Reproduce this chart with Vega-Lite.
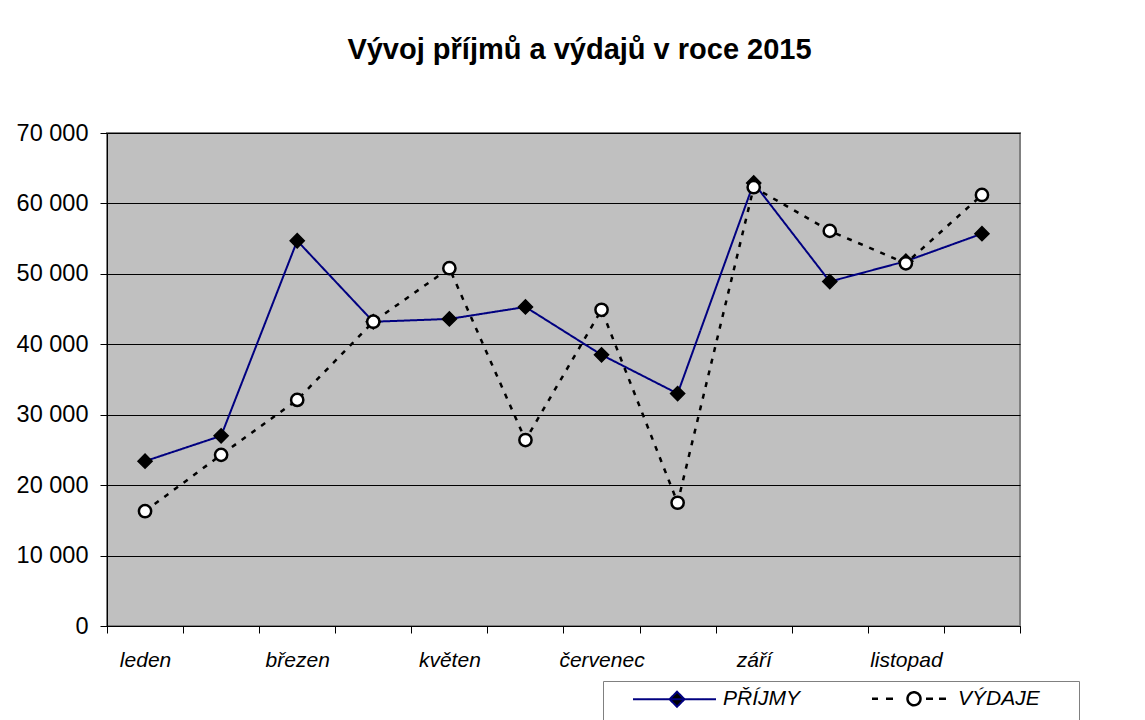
{
  "$schema": "https://vega.github.io/schema/vega-lite/v6.json",
  "autosize": {"type": "none"},
  "width": 913,
  "height": 493,
  "padding": {"left": 107, "top": 133, "right": 125, "bottom": 94},
  "background": "white",
  "title": {
    "text": "Vývoj příjmů a výdajů v roce 2015",
    "font": "Liberation Sans",
    "fontSize": 29,
    "fontWeight": "bold",
    "color": "black",
    "anchor": "middle",
    "dx": 16,
    "offset": 56
  },
  "data": {
    "values": [
      {"mesic": "leden", "rada": "PŘÍJMY", "hodnota": 23400},
      {"mesic": "únor", "rada": "PŘÍJMY", "hodnota": 27000},
      {"mesic": "březen", "rada": "PŘÍJMY", "hodnota": 54700},
      {"mesic": "duben", "rada": "PŘÍJMY", "hodnota": 43200},
      {"mesic": "květen", "rada": "PŘÍJMY", "hodnota": 43600},
      {"mesic": "červen", "rada": "PŘÍJMY", "hodnota": 45300},
      {"mesic": "červenec", "rada": "PŘÍJMY", "hodnota": 38500},
      {"mesic": "srpen", "rada": "PŘÍJMY", "hodnota": 33000},
      {"mesic": "září", "rada": "PŘÍJMY", "hodnota": 62900},
      {"mesic": "říjen", "rada": "PŘÍJMY", "hodnota": 48900},
      {"mesic": "listopad", "rada": "PŘÍJMY", "hodnota": 51800},
      {"mesic": "prosinec", "rada": "PŘÍJMY", "hodnota": 55700},
      {"mesic": "leden", "rada": "VÝDAJE", "hodnota": 16300},
      {"mesic": "únor", "rada": "VÝDAJE", "hodnota": 24300},
      {"mesic": "březen", "rada": "VÝDAJE", "hodnota": 32100},
      {"mesic": "duben", "rada": "VÝDAJE", "hodnota": 43200},
      {"mesic": "květen", "rada": "VÝDAJE", "hodnota": 50800},
      {"mesic": "červen", "rada": "VÝDAJE", "hodnota": 26400},
      {"mesic": "červenec", "rada": "VÝDAJE", "hodnota": 44900},
      {"mesic": "srpen", "rada": "VÝDAJE", "hodnota": 17500},
      {"mesic": "září", "rada": "VÝDAJE", "hodnota": 62300},
      {"mesic": "říjen", "rada": "VÝDAJE", "hodnota": 56100},
      {"mesic": "listopad", "rada": "VÝDAJE", "hodnota": 51500},
      {"mesic": "prosinec", "rada": "VÝDAJE", "hodnota": 61200}
    ]
  },
  "encoding": {
    "x": {
      "field": "mesic",
      "type": "nominal",
      "sort": ["leden", "únor", "březen", "duben", "květen", "červen", "červenec", "srpen", "září", "říjen", "listopad", "prosinec"],
      "scale": {"type": "band", "paddingInner": 0, "paddingOuter": 0},
      "axis": {
        "title": null,
        "tickBand": "extent",
        "labelAngle": 0,
        "labelExpr": "indexof(['leden','březen','květen','červenec','září','listopad'], datum.value) >= 0 ? datum.value : ''",
        "labelFont": "Liberation Sans",
        "labelFontSize": 21,
        "labelFontStyle": "italic",
        "labelColor": "black",
        "labelPadding": 16,
        "domainColor": "black",
        "domainWidth": 1,
        "tickColor": "black",
        "tickSize": 7,
        "grid": false
      }
    },
    "y": {
      "field": "hodnota",
      "type": "quantitative",
      "scale": {"domain": [0, 70000], "nice": false},
      "axis": {
        "title": null,
        "values": [0, 10000, 20000, 30000, 40000, 50000, 60000, 70000],
        "labelExpr": "replace(format(datum.value, ','), ',', ' ')",
        "labelFont": "Liberation Sans",
        "labelFontSize": 23.5,
        "labelColor": "black",
        "labelPadding": 12,
        "domainColor": "black",
        "tickColor": "black",
        "tickSize": 7,
        "grid": true,
        "gridColor": "black",
        "gridWidth": 1,
        "gridOpacity": 1
      }
    }
  },
  "layer": [
    {
      "mark": {"type": "line"},
      "encoding": {
        "color": {
          "field": "rada",
          "type": "nominal",
          "scale": {"domain": ["PŘÍJMY", "VÝDAJE"], "range": ["#000080", "black"]},
          "legend": {
            "title": null,
            "orient": "none",
            "legendX": 496,
            "legendY": 548,
            "direction": "horizontal",
            "strokeColor": "#808080",
            "fillColor": "white",
            "padding": 7,
            "labelFont": "Liberation Sans",
            "labelFontSize": 21,
            "labelFontStyle": "italic",
            "labelColor": "black",
            "labelOffset": 92,
            "columnPadding": 39,
            "symbolSize": 144,
            "symbolOffset": 0,
            "encode": {
              "symbols": {
                "update": {
                  "shape": {"signal": "datum.value === 'PŘÍJMY' ? 'M-1.75,0M0,3M2.08,0H15.92M9.42,-1.25L10.67,0L9.42,1.25L8.17,0Z' : 'M-1.75,0M0,3M2.75,0H3.75M5.08,0H6.25M11.75,0H12.92M13.92,0H15.08M10.83,0A1.08,1.08 0 1,1 8.67,0A1.08,1.08 0 1,1 10.83,0ZM35.1,0'"},
                  "stroke": {"signal": "datum.value === 'PŘÍJMY' ? '#000080' : 'black'"},
                  "fill": {"signal": "datum.value === 'PŘÍJMY' ? 'black' : 'white'"},
                  "strokeWidth": {"signal": "datum.value === 'PŘÍJMY' ? 2 : 2.5"},
                  "strokeDash": {"value": [1, 0]},
                  "size": {"value": 144},
                  "opacity": {"value": 1}
                }
              }
            }
          }
        },
        "strokeDash": {"condition": {"test": "datum.rada === 'VÝDAJE'", "value": [5, 7]}, "value": [1, 0]},
        "strokeWidth": {"condition": {"test": "datum.rada === 'VÝDAJE'", "value": 2.5}, "value": 2}
      }
    },
    {
      "mark": {"type": "point", "filled": false, "stroke": "black", "opacity": 1},
      "encoding": {
        "shape": {"condition": {"test": "datum.rada === 'PŘÍJMY'", "value": "diamond"}, "value": "circle"},
        "fill": {"condition": {"test": "datum.rada === 'PŘÍJMY'", "value": "black"}, "value": "white"},
        "size": {"condition": {"test": "datum.rada === 'PŘÍJMY'", "value": 200}, "value": 150},
        "strokeWidth": {"condition": {"test": "datum.rada === 'PŘÍJMY'", "value": 1.5}, "value": 2.5}
      }
    }
  ],
  "config": {
    "view": {"fill": "#c0c0c0", "stroke": "#808080", "strokeWidth": 2},
    "font": "Liberation Sans"
  }
}
